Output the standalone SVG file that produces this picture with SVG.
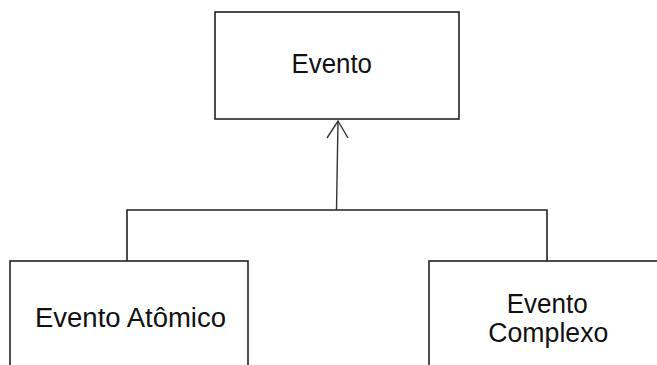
<svg xmlns="http://www.w3.org/2000/svg" width="657" height="365" viewBox="0 0 657 365">
<style>
.box{fill:#ffffff;stroke:#222222;stroke-width:1.6}
.ln{fill:none;stroke:#222222;stroke-width:1.6}
.arr{fill:none;stroke:#333333;stroke-width:1.4}
.t{font-family:"Liberation Sans",Arial,sans-serif;font-size:27px;fill:#111111}
</style>
<rect width="657" height="365" fill="#ffffff"/>
<g id="connectors">
<polyline class="ln" points="127,261 127,210 547,210 547,261"/>
<line class="arr" x1="336.5" y1="210" x2="338" y2="121"/>
<polyline class="arr" points="327,138 338,121 348,138"/>
</g>
<g id="evento">
<rect class="box" x="215" y="12" width="244" height="107"/>
<text class="t" x="291.5" y="73.3" textLength="80.5" lengthAdjust="spacingAndGlyphs">Evento</text>
</g>
<g id="evento-atomico">
<rect class="box" x="10" y="261" width="238" height="120"/>
<text class="t" x="35" y="326.7" textLength="191" lengthAdjust="spacingAndGlyphs">Evento Atômico</text>
</g>
<g id="evento-complexo">
<rect class="box" x="429" y="261" width="240" height="120"/>
<text class="t" x="506.7" y="313.3" textLength="81" lengthAdjust="spacingAndGlyphs">Evento</text>
<text class="t" x="488.3" y="341.5" textLength="120" lengthAdjust="spacingAndGlyphs">Complexo</text>
</g>
</svg>
